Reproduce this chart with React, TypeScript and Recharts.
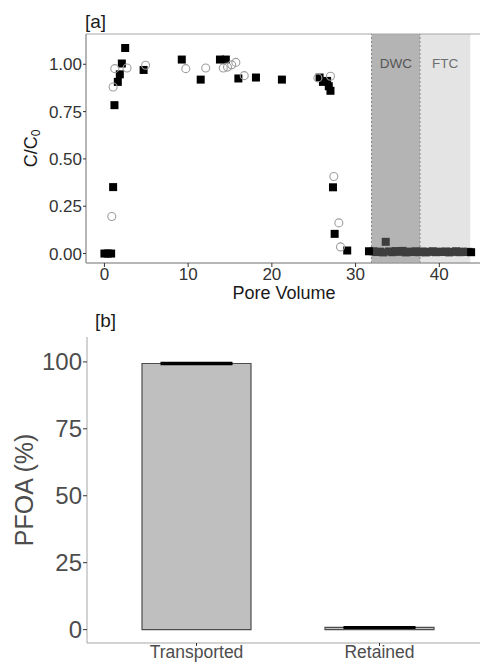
import React from 'react';
import {
  ScatterChart, Scatter, XAxis, YAxis, ReferenceArea, ReferenceLine, Label,
  BarChart, Bar, ErrorBar,
} from 'recharts';

const FONT = '"Liberation Sans", Arial, Helvetica, sans-serif';

// [a] breakthrough curve, filled squares
const squareX = [0.0, 0.4, 0.8, 1.04, 1.2, 1.6, 1.84, 2.08, 2.48, 4.68, 9.24, 11.5, 13.8, 14.5, 16.0, 18.1, 21.2, 25.7, 26.1, 26.6, 26.8, 27.0, 27.3, 27.5, 29.0, 31.6, 43.8];
const squareY = [0.0, 0.0, 0.0, 0.351, 0.784, 0.907, 0.947, 1.004, 1.086, 0.97, 1.025, 0.919, 1.025, 1.025, 0.925, 0.93, 0.919, 0.93, 0.907, 0.912, 0.884, 0.86, 0.35, 0.104, 0.016, 0.012, 0.007];

// [a] squares measured during DWC / FTC
const bandX = [32.1, 32.5, 32.9, 33.3, 33.6, 34.0, 34.4, 34.8, 35.2, 35.6, 36.0, 36.4, 36.8, 37.2, 37.6, 38.0, 38.4, 38.8, 39.2, 39.6, 40.0, 40.4, 40.8, 41.2, 41.6, 42.0, 42.4, 42.8, 43.2, 43.5];
const bandY = [0.012, 0.008, 0.010, 0.006, 0.062, 0.011, 0.007, 0.013, 0.009, 0.014, 0.006, 0.010, 0.008, 0.012, 0.007, 0.011, 0.006, 0.009, 0.012, 0.007, 0.010, 0.008, 0.011, 0.006, 0.009, 0.012, 0.007, 0.010, 0.008, 0.009];

// [a] open circles
const circleX = [0.88, 1.04, 1.24, 2.7, 4.92, 9.72, 12.1, 14.2, 14.7, 15.2, 15.7, 16.7, 25.5, 27.0, 27.4, 28.0, 28.2];
const circleY = [0.196, 0.88, 0.977, 0.98, 0.995, 0.977, 0.98, 0.98, 0.985, 0.997, 1.01, 0.94, 0.928, 0.937, 0.407, 0.162, 0.035];

const xTicksA = [0, 10, 20, 30, 40];
const yTicksA = [0, 0.25, 0.5, 0.75, 1];
const dwcRange = [31.9, 37.7];
const ftcRange = [37.7, 43.7];

// [b] mass balance
const categories = ['Transported', 'Retained'];
const pfoa = [99.4, 0.8];
const pfoaErr = [0.25, 0.2];
const yTicksB = [0, 25, 50, 75, 100];

const squares = squareX.map((x, i) => ({ x, y: squareY[i] }));
const band = bandX.map((x, i) => ({ x, y: bandY[i] }));
const circles = circleX.map((x, i) => ({ x, y: circleY[i] }));
const barData = categories.map((name, i) => ({ name, value: pfoa[i], err: pfoaErr[i] }));

const Square = (props: any) => (
  <rect x={props.cx - 4} y={props.cy - 4} width={8} height={8} fill={props.fill} />
);
const OpenCircle = (props: any) => (
  <circle cx={props.cx} cy={props.cy} r={4} fill="none" stroke="#9e9e9e" strokeWidth={1.1} />
);

const CTitle = (props: any) => {
  const vb = props.viewBox;
  const cx = 31;
  const cy = vb.y + vb.height / 2;
  return (
    <text x={cx} y={cy} transform={`rotate(-90 ${cx} ${cy})`} textAnchor="middle"
      dominantBaseline="central" fill="#1a1a1a" fontSize={18} fontFamily={FONT}>
      C/C<tspan fontSize={12} dy={5}>0</tspan>
    </text>
  );
};

const PfoaTitle = (props: any) => {
  const vb = props.viewBox;
  const cx = 24;
  const cy = vb.y + vb.height / 2;
  return (
    <text x={cx} y={cy} transform={`rotate(-90 ${cx} ${cy})`} textAnchor="middle"
      dominantBaseline="central" fill="#4d4d4d" fontSize={25} fontFamily={FONT}>
      PFOA (%)
    </text>
  );
};

const tagStyle: React.CSSProperties = {
  position: 'absolute', fontSize: 19, lineHeight: '22px', color: '#1a1a1a', fontFamily: FONT,
};

export default function App() {
  return (
    <div style={{ position: 'absolute', left: 0, top: 0, width: 480, height: 662, overflow: 'hidden', background: '#fff', fontFamily: FONT }}>
      <div style={{ ...tagStyle, left: 85, top: 11 }}>[a]</div>
      <div style={{ ...tagStyle, left: 95, top: 310 }}>[b]</div>

      <div style={{ position: 'absolute', left: 0, top: 0 }}>
        <ScatterChart width={482} height={303} margin={{ top: 34, right: 0, bottom: 0, left: 0 }}>
          <XAxis dataKey="x" type="number" domain={[-2.2, 45.1]} ticks={xTicksA} allowDataOverflow
            height={40} tickSize={4} tickMargin={1}
            tick={{ fontSize: 17, fill: '#333', fontFamily: FONT }}
            axisLine={{ stroke: '#999' }} tickLine={{ stroke: '#333' }}>
            <Label value="Pore Volume" position="insideBottom" offset={4}
              style={{ fontSize: 18, fill: '#1a1a1a', fontFamily: FONT }} />
          </XAxis>
          <YAxis dataKey="y" type="number" domain={[-0.05, 1.16]} ticks={yTicksA} allowDataOverflow
            width={86} tickSize={3} tickMargin={1}
            tickFormatter={(v: number) => v.toFixed(2)}
            tick={{ fontSize: 17, fill: '#333', fontFamily: FONT }}
            axisLine={{ stroke: '#999' }} tickLine={{ stroke: '#333' }}>
            <Label content={<CTitle />} />
          </YAxis>
          <ReferenceArea x1={dwcRange[0]} x2={dwcRange[1]} y1={-0.05} y2={1.16} fill="#b4b4b4" fillOpacity={1} stroke="none"
            label={{ value: 'DWC', position: 'insideTop', offset: 24, fill: '#555', fontSize: 13.5, fontFamily: FONT }} />
          <ReferenceArea x1={ftcRange[0]} x2={ftcRange[1]} y1={-0.05} y2={1.16} fill="#e4e4e4" fillOpacity={1} stroke="none"
            label={{ value: 'FTC', position: 'insideTop', offset: 24, fill: '#6e6e6e', fontSize: 13.5, fontFamily: FONT }} />
          <ReferenceLine x={dwcRange[0]} stroke="#888" strokeDasharray="2 2" />
          <ReferenceLine x={dwcRange[1]} stroke="#888" strokeDasharray="2 2" />
          <ReferenceArea x1={-2.2} x2={45.1} y1={-0.05} y2={1.16} fill="none" stroke="#a6a6a6" strokeWidth={1} />
          <Scatter data={band} fill="#3d3d3d" shape={<Square />} isAnimationActive={false} />
          <Scatter data={squares} fill="#000" shape={<Square />} isAnimationActive={false} />
          <Scatter data={circles} fill="none" shape={<OpenCircle />} isAnimationActive={false} />
        </ScatterChart>
      </div>

      <div style={{ position: 'absolute', left: 0, top: 300 }}>
        <BarChart width={489} height={368} data={barData} margin={{ top: 37, right: 0, bottom: 0, left: 0 }} barSize={109}>
          <XAxis xAxisId="top" dataKey="name" orientation="top" height={0} tick={false} tickLine={false}
            axisLine={{ stroke: '#a6a6a6' }} padding={{ left: 18, right: 18 }} />
          <XAxis dataKey="name" height={25} padding={{ left: 18, right: 18 }} tickSize={3} tickMargin={0}
            tick={{ fontSize: 17.5, fill: '#4d4d4d', fontFamily: FONT }}
            axisLine={{ stroke: '#a6a6a6' }} tickLine={{ stroke: '#333' }} />
          <YAxis type="number" domain={[-5, 109.3]} ticks={yTicksB} allowDataOverflow width={87}
            tickSize={4} tickMargin={1}
            tick={{ fontSize: 24, fill: '#4d4d4d', fontFamily: FONT }}
            axisLine={{ stroke: '#a6a6a6' }} tickLine={{ stroke: '#333' }}>
            <Label content={<PfoaTitle />} />
          </YAxis>
          <Bar dataKey="value" fill="#bfbfbf" stroke="#4d4d4d" strokeWidth={1.2} isAnimationActive={false}>
            <ErrorBar dataKey="err" width={36} stroke="#000" strokeWidth={2} direction="y" isAnimationActive={false} />
          </Bar>
        </BarChart>
      </div>
    </div>
  );
}
